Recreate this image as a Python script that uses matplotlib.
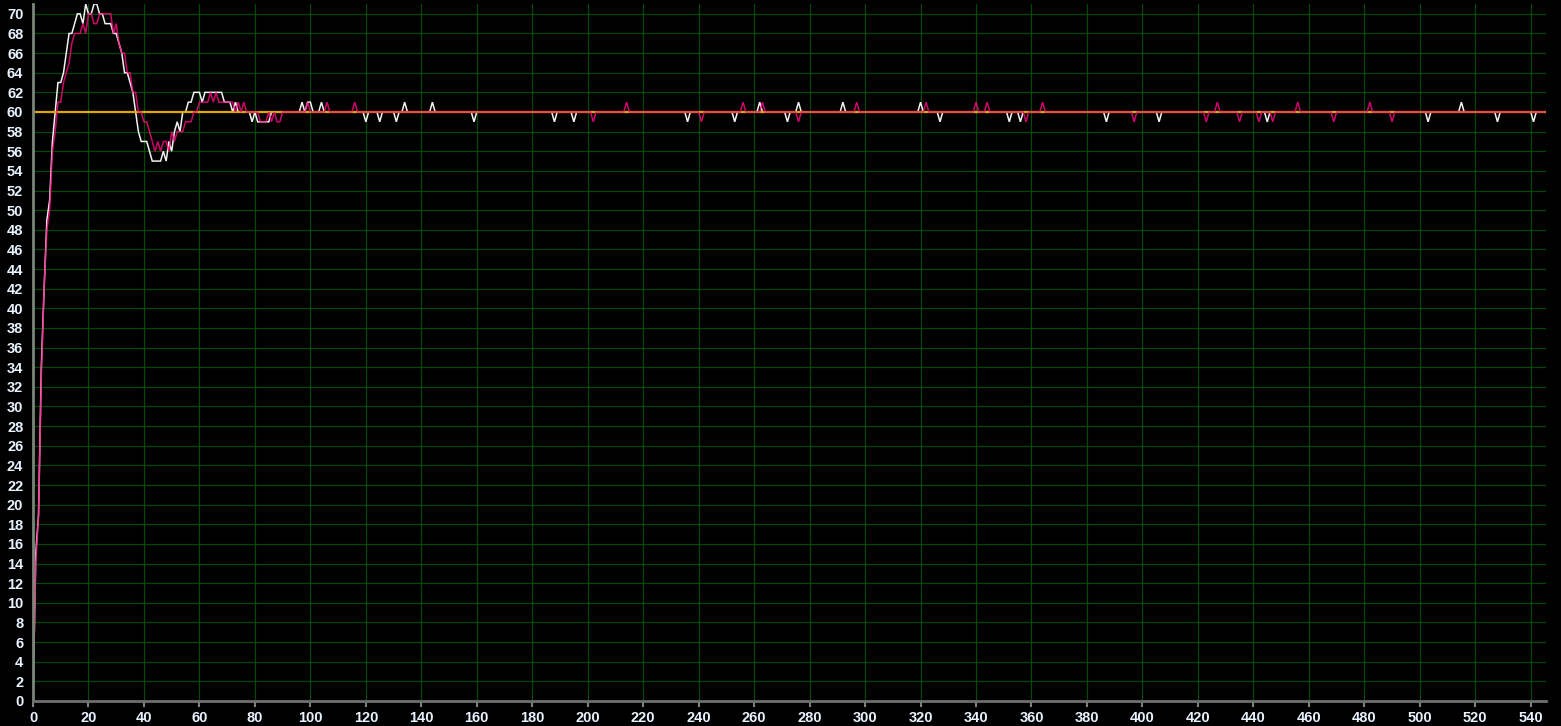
import numpy as np
import matplotlib
matplotlib.use("Agg")
import matplotlib.pyplot as plt

# ---------------- data ----------------
n_samples = 546                      # samples 0..545
setpoint = 60

# transient part, sample 0..90
white_transient = [0, 15, 19, 34, 42, 49, 51, 57, 60, 63,
                   63, 64, 66, 68, 68, 69, 70, 70, 69, 71,
                   70, 70, 71, 71, 70, 70, 69, 69, 69, 68,
                   68, 67, 66, 64, 64, 63, 62, 60, 58, 57,
                   57, 57, 56, 55, 55, 55, 55, 56, 55, 57,
                   56, 58, 59, 58, 60, 60, 61, 61, 62, 62,
                   62, 61, 62, 62, 62, 62, 62, 62, 62, 61,
                   61, 61, 60, 61, 60, 60, 60, 60, 60, 59,
                   60, 59, 59, 59, 59, 59, 60, 60, 60, 60,
                   60]
pink_transient = [0, 14, 19, 33, 42, 48, 50, 56, 58, 61,
                  61, 63, 64, 65, 67, 68, 68, 68, 69, 68,
                  70, 70, 69, 69, 70, 70, 70, 70, 70, 68,
                  69, 67, 66, 66, 64, 64, 62, 62, 60, 60,
                  59, 59, 58, 57, 56, 57, 56, 57, 57, 56,
                  58, 57, 58, 58, 58, 59, 59, 59, 60, 60,
                  61, 61, 61, 61, 62, 61, 62, 61, 61, 61,
                  61, 61, 61, 60, 61, 60, 61, 60, 60, 60,
                  60, 60, 59, 59, 59, 60, 59, 60, 59, 59,
                  60]

# steady-state single-sample excursions
white_up_at = [97, 99, 100, 104, 134, 144, 262, 276, 292, 320, 515]
white_down_at = [120, 125, 131, 159, 188, 195, 236, 253, 272, 327, 352,
                 356, 387, 406, 445, 503, 528, 541]
pink_up_at = [99, 106, 116, 214, 256, 263, 297, 322, 340, 344, 364, 427,
              456, 482]
pink_down_at = [202, 241, 276, 358, 397, 423, 435, 442, 447, 469, 490]

x_ticks = list(range(0, 541, 20))
y_ticks = list(range(0, 71, 2))

# ---------------- build series ----------------
def build(transient, ups, downs):
    s = np.full(n_samples, float(setpoint))
    s[:len(transient)] = transient
    s[ups] = setpoint + 1
    s[downs] = setpoint - 1
    return s

t = np.arange(n_samples)
white = build(white_transient, white_up_at, white_down_at)
pink = build(pink_transient, pink_up_at, pink_down_at)

# ---------------- plot ----------------
W, H, DPI = 1561, 726, 100
fig = plt.figure(figsize=(W / DPI, H / DPI), dpi=DPI, facecolor="black")
ax = fig.add_axes([33 / W, 25 / H, (1546 - 33) / W, (701 - 4) / H])
ax.set_facecolor("black")

grid_c = "#004C00"
for yv in y_ticks[1:]:
    ax.axhline(yv, color=grid_c, lw=0.85, zorder=0)
for xv in x_ticks[1:]:
    ax.axvline(xv, color=grid_c, lw=0.85, zorder=0)

ax.plot(t, white, color="#F2F2F2", lw=1.1, zorder=2, solid_joinstyle="miter")
ax.plot([0, n_samples - 1], [setpoint, setpoint], color="#E2A800", lw=1.6,
        zorder=3)
ax.plot(t, pink, color="#FF0A82", lw=1.1, alpha=0.8, zorder=4,
        solid_joinstyle="miter")

ax.set_xlim(0, 545.5)
ax.set_ylim(0, 71.0)
ax.set_xticks(x_ticks)
ax.set_yticks(y_ticks)

font = ["Liberation Sans Narrow", "Liberation Sans", "DejaVu Sans"]
lab_c = "#E8F2FF"
ax.set_xticklabels([str(v) for v in x_ticks], family=font, fontsize=10.5,
                   color=lab_c, fontweight="bold")
ax.set_yticklabels([str(v) for v in y_ticks], family=font, fontsize=10.5,
                   color=lab_c, fontweight="bold")
ax.tick_params(axis="x", length=4, width=1.5, color="#808080", pad=3)
ax.tick_params(axis="y", length=0, pad=7)

for side in ("top", "right"):
    ax.spines[side].set_visible(False)
ax.spines["left"].set_color("#7A867A")
ax.spines["left"].set_linewidth(2)
ax.spines["bottom"].set_color("#707070")
ax.spines["bottom"].set_linewidth(2)
ax.spines["left"].set_zorder(5)
ax.spines["bottom"].set_zorder(5)

fig.savefig("out.png", dpi=DPI, facecolor="black")
